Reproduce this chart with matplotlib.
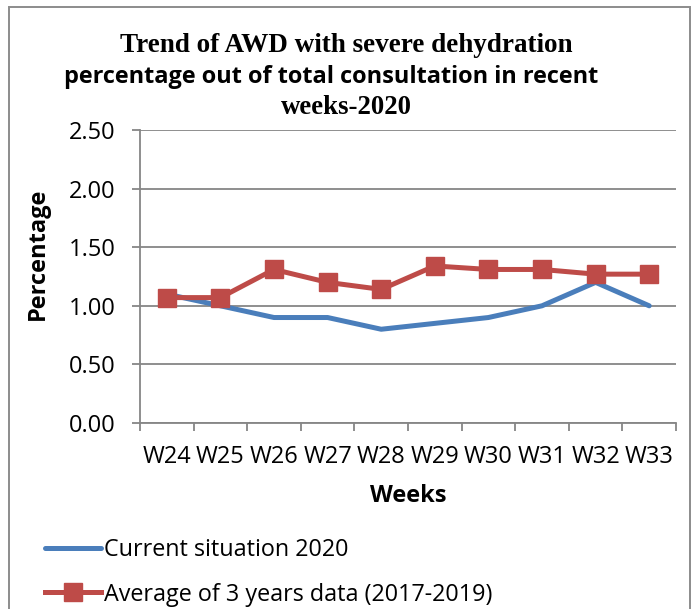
import matplotlib
matplotlib.use("Agg")
import matplotlib.pyplot as plt
import matplotlib.patches as mpatches

# Dados
semanas = ["W24", "W25", "W26", "W27", "W28", "W29", "W30", "W31", "W32", "W33"]
atual_2020 = [1.10, 1.00, 0.90, 0.90, 0.80, 0.85, 0.90, 1.00, 1.20, 1.00]
media_3_anos = [1.07, 1.07, 1.31, 1.20, 1.14, 1.34, 1.31, 1.31, 1.27, 1.27]
y_ticks = [0.0, 0.5, 1.0, 1.5, 2.0, 2.5]

azul = "#4A7EBB"
vermelho = "#BE4B48"
cinza = "#868686"
fonte = "Open Sans"
tam = 17

fig = plt.figure(figsize=(6.92, 6.09), dpi=100)
ax = fig.add_axes([140 / 692, 186 / 609, 536 / 692, 293 / 609])

x = range(len(semanas))
ax.plot(x, atual_2020, color=azul, lw=3.6, solid_capstyle="round",
        label="Current situation 2020", zorder=3)
ax.plot(x, media_3_anos, color=vermelho, lw=3.6, marker="s", markersize=13,
        markeredgecolor=vermelho, label="Average of 3 years data (2017-2019)", zorder=4)

ax.set_xlim(-0.5, len(semanas) - 0.5)
ax.set_ylim(0, 2.5)
ax.set_yticks(y_ticks)
ax.set_yticklabels([f"{v:.2f}" for v in y_ticks], fontsize=tam, family=fonte)
ax.set_xticks([i - 0.5 for i in range(len(semanas) + 1)])
ax.set_xticklabels([])
ax.set_xticks(list(x), minor=True)
ax.set_xticklabels(semanas, minor=True, fontsize=tam, family=fonte)
ax.tick_params(axis="x", which="minor", length=0, pad=16)
ax.tick_params(axis="x", which="major", length=5.8, width=1.3, color=cinza)
ax.tick_params(axis="y", length=5.8, width=1.3, color=cinza, pad=11.5)

ax.grid(axis="y", color=cinza, lw=1.3)
ax.set_axisbelow(True)
for lado in ["top", "right"]:
    ax.spines[lado].set_visible(False)
for lado in ["left", "bottom"]:
    ax.spines[lado].set_color(cinza)
    ax.spines[lado].set_linewidth(1.3)

ax.set_xlabel("Weeks", fontsize=tam, family=fonte, fontweight="bold")
ax.set_ylabel("Percentage", fontsize=tam, family=fonte, fontweight="bold")
ax.xaxis.set_label_coords(0.5, -0.208)
ax.yaxis.set_label_coords(-0.168, 0.578)

# Título
fig.text(346 / 692, 1 - 45 / 609, "Trend of AWD with severe dehydration", ha="center", va="center",
         fontsize=19.5, family="Liberation Serif", fontweight="bold")
fig.text(331 / 692, 1 - 77 / 609, "percentage out of total consultation in recent", ha="center",
         va="center", fontsize=16.9, family=fonte, fontweight="bold")
fig.text(346 / 692, 1 - 108 / 609, "weeks-2020", ha="center", va="center",
         fontsize=19.3, family="Liberation Serif", fontweight="bold")

# Legenda
leg = ax.legend(loc="upper left", bbox_to_anchor=(45 / 692, 1 - 538 / 609),
                bbox_transform=fig.transFigure, frameon=False, borderpad=0,
                borderaxespad=0, handlelength=2.4, handletextpad=0.12,
                labelspacing=0.88, prop={"family": fonte, "size": 16.8})

# Moldura
fig.patches.append(mpatches.Rectangle((9 / 692, -0.02), 681 / 692, 1.02 - 7 / 609,
                                      transform=fig.transFigure, fill=False,
                                      edgecolor="#8C8C8C", lw=1.4))

fig.savefig("out.png", dpi=100)
